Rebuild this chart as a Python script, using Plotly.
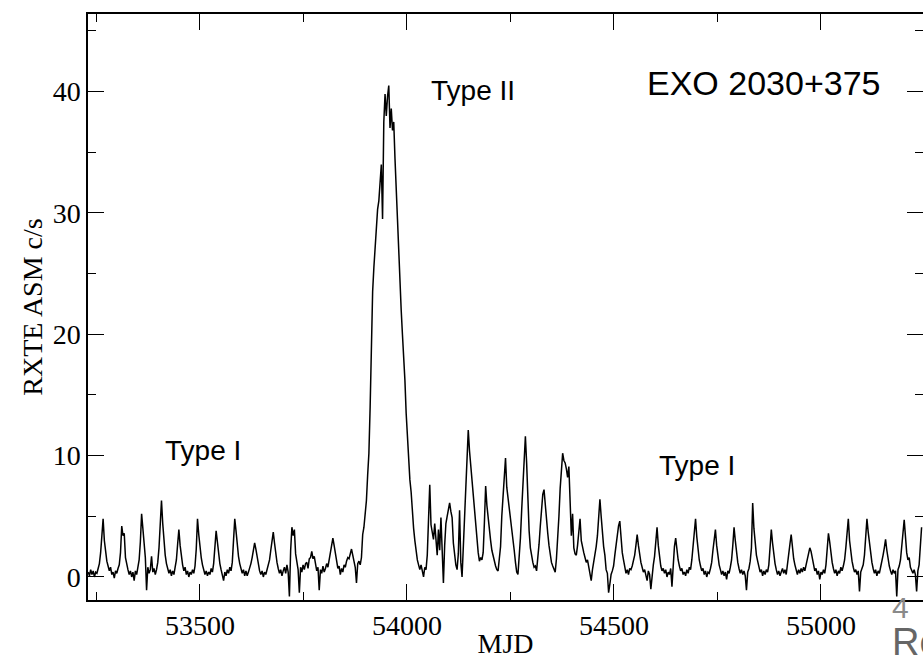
import plotly.graph_objects as go

# RXTE ASM light curve of EXO 2030+375, sampled every 3 days starting at MJD 53230
mjd_start = 53230
mjd_step = 3
rate = [
    # 53230
    0.4, 0.1, 0.6, 0.2, 0.5, 0.0, 0.4, 0.3, 0.7, 1.1, 2.0, 3.6, 4.8, 3.0, 1.9, 1.3,
    # 53278
    0.9, 0.5, 0.8, 0.2, 0.4, -0.1, 0.5, 0.3, 0.7, 1.0, 2.0, 4.2, 3.4, 3.6, 1.6, 1.0,
    # 53326
    0.6, 0.2, 0.5, 0.0, 0.4, -0.3, 0.5, 0.2, 0.8, 1.4, 2.9, 5.2, 4.0, 2.6, 1.6, -1.1,
    # 53374
    0.8, 0.3, 0.6, 1.7, 0.4, 0.7, 0.2, 0.6, 1.2, 2.4, 4.6, 6.3, 4.4, 2.8, 1.8, 1.1,
    # 53422
    0.7, 0.3, 0.6, 0.1, 0.5, 0.2, 0.8, 1.4, 2.7, 3.9, 2.6, 1.7, 1.0, 0.5, 0.8, 0.2,
    # 53470
    0.5, 0.0, 0.4, 0.2, 0.6, 0.3, 0.9, 2.3, 4.8, 3.5, 2.4, 1.6, 1.0, 0.6, 0.2, 0.5,
    # 53518
    0.1, 0.4, 0.2, 0.7, 0.4, 1.1, 2.3, 3.8, 2.9, 1.8, 1.1, 0.6, 0.2, -0.3, 0.4, 0.1,
    # 53566
    0.6, 0.3, 0.8, 0.5, 1.2, 2.6, 4.8, 3.8, 2.5, 1.7, 1.1, 0.6, 0.3, 0.6, 0.1, 0.5,
    # 53614
    0.1, 0.4, 0.7, 1.1, 1.6, 2.3, 2.8, 2.3, 1.6, 1.0, 0.5, 0.2, 0.5, 0.0, 0.4, 0.2,
    # 53662
    0.6, 0.9, 1.4, 2.2, 3.0, 3.7, 2.8, 1.9, 1.2, 0.7, 0.3, 0.6, 0.1, 0.5, 0.8, 0.3,
    # 53710
    1.0, 0.4, -1.6, 2.2, 4.1, 3.4, 3.9, 1.9, 1.2, 0.6, -1.3, 0.8, 0.4, 1.0, 0.6, 1.1,
    # 53758
    1.2, 0.7, 1.5, 1.6, 2.1, 1.5, 1.7, 1.0, 0.5, 0.8, -1.1, 0.6, 0.3, 0.9, 0.4, 0.7,
    # 53806
    1.1, 0.8, 1.4, 2.0, 2.6, 3.2, 2.6, 1.9, 1.2, 0.7, 0.9, 0.2, 0.7, 0.4, 1.0, 0.8,
    # 53854
    1.3, 1.6, 1.5, 2.0, 2.3, 1.8, 1.3, 0.8, -0.5, 1.1, 1.3, 1.0, 1.6, 3.5, 4.1, 5.2,
    # 53902  (type II outburst)
    6.3, 8.4, 10.2, 14.0, 19.0, 23.5, 25.5, 27.5, 29.0, 30.3, 31.0, 32.5, 34.0, 29.5, 37.5, 39.8,
    # 53950
    38.0, 39.6, 40.5, 37.0, 38.6, 36.8, 37.5, 34.5, 32.5, 29.5, 27.0, 24.0, 22.0, 20.0, 18.5, 16.2,
    # 53998
    13.5, 11.5, 9.5, 8.0, 7.0, 5.2, 4.0, 3.0, 2.0, 1.4, 1.0, 0.6, 1.0, 0.3, 0.0, 0.8,
    # 54046
    0.6, 1.8, 5.5, 7.6, 4.3, 3.5, 3.1, 4.4, 2.8, 1.8, 3.9, 2.2, 4.9, 2.0, -0.5, 2.6,
    # 54094
    4.4, 5.0, 5.7, 6.1, 5.4, 4.9, 2.8, 1.8, 1.0, 0.6, 1.9, 5.5, 1.2, 0.0, 2.6, 4.6,
    # 54142
    7.8, 10.3, 12.1, 10.4, 9.2, 7.6, 6.5, 5.0, 3.8, 2.6, 2.0, 1.3, 1.6, 1.4, 2.0, 4.5,
    # 54190
    7.5, 5.9, 4.7, 3.8, 3.0, 2.2, 1.7, 1.3, 0.9, 0.6, 0.5, 1.5, 2.5, 5.0, 7.0, 8.8,
    # 54238
    9.8, 7.4, 6.6, 5.6, 5.0, 4.0, 3.1, 2.2, 1.2, 0.4, 0.2, 1.5, 3.2, 5.5, 7.4, 9.0,
    # 54286
    11.6, 9.4, 6.0, 3.8, 2.4, 1.7, 1.2, 0.8, 0.9, 0.5, 1.4, 2.7, 4.2, 5.6, 6.8, 7.2,
    # 54334
    5.8, 4.7, 3.6, 2.6, 1.6, 1.2, 0.9, 0.6, 0.4, 1.5, 3.0, 5.0, 7.3, 9.0, 10.2, 9.6,
    # 54382
    9.4, 8.9, 8.2, 9.1, 5.6, 3.4, 5.2, 2.4, 1.9, 1.8, 2.6, 3.6, 4.8, 3.0, 2.4, 2.0,
    # 54430
    1.6, 1.2, 1.4, 0.8, 0.4, -0.3, 0.6, 1.2, 1.8, 2.5, 3.4, 4.6, 6.4, 5.0, 3.4, 2.5,
    # 54478
    1.8, 0.6, 0.3, -1.3, -0.6, 0.2, 0.5, 0.9, 1.8, 2.7, 3.4, 4.2, 4.6, 2.8, 2.0, 1.4,
    # 54526
    0.8, 0.3, 0.6, 0.2, 0.7, 0.6, 0.9, 1.3, 1.8, 2.6, 3.5, 2.6, 1.8, 1.2, 0.8, 0.4,
    # 54574
    0.6, 0.1, -0.3, 0.5, 0.2, -1.0, 0.3, 1.0, 1.7, 3.0, 4.1, 2.6, 1.6, 0.9, 0.5, 0.7,
    # 54622
    0.3, 0.6, 0.0, 0.4, 0.2, 0.7, -0.8, 1.3, 2.5, 3.2, 2.1, 1.4, 0.9, 0.5, 0.7, 0.2,
    # 54670
    0.4, 0.1, 0.6, 0.3, 0.8, 0.6, 1.4, 2.4, 3.8, 4.8, 3.3, 2.2, 1.4, 0.9, 0.5, 0.7,
    # 54718
    0.2, 0.5, 0.0, 0.4, 0.3, 0.7, 1.2, 2.2, 3.3, 3.9, 2.6, 1.6, 1.0, 0.6, 0.2, 0.5,
    # 54766
    0.1, 0.4, -0.2, 0.5, 0.3, 0.8, 1.4, 2.6, 4.1, 3.0, 1.9, 1.2, 0.7, 0.3, 0.6, 0.2,
    # 54814
    0.5, 0.1, -1.1, 0.4, 0.7, 1.3, 2.4, 6.1, 4.0, 2.6, 1.8, 1.3, 0.8, 0.4, 0.6, 0.1,
    # 54862
    0.5, 0.2, 0.6, 0.4, 1.0, 2.2, 3.9, 2.8, 1.8, 1.1, 0.6, 0.2, 0.5, 0.1, 0.4, 0.7,
    # 54910
    0.3, 0.6, 0.2, 0.9, 1.6, 2.7, 3.5, 2.4, 1.5, 1.0, 0.5, 0.2, 0.6, 0.3, 0.7, 0.4,
    # 54958
    0.8, 0.5, 1.0, 1.4, 2.0, 2.4, 2.1, 1.5, 1.0, 0.5, 0.7, 0.2, 0.5, -0.2, 0.4, 0.2,
    # 55006
    0.6, 0.3, 1.0, 2.0, 3.6, 2.9, 1.9, 1.2, 0.7, 0.3, 0.6, 0.1, 0.5, 0.3, 0.8, 0.5,
    # 55054
    0.9, 1.4, 2.4, 3.8, 4.8, 3.0, 1.9, 1.3, 0.8, 0.4, 0.6, 0.2, 0.5, -1.2, 0.4, 0.7,
    # 55102
    1.0, 1.8, 3.3, 4.8, 3.7, 2.8, 1.9, 1.2, 0.7, 0.3, 0.6, 0.1, 0.5, 0.3, 0.8, 1.2,
    # 55150
    1.8, 2.4, 3.1, 2.2, 1.4, 0.9, 0.5, 0.2, 0.6, 0.3, 0.5, -1.6, 0.6, 0.9, 1.4, 2.3,
    # 55198
    3.6, 4.7, 3.0, 2.0, 1.4, 1.6, 0.8, 0.5, 0.3, 0.6, 0.2, -1.2, 0.5, 1.0, 2.2, 4.1,
]
mjd = [mjd_start + mjd_step * i for i in range(len(rate))]

x_range = [53229.5, 55246.4]
y_range = [-1.9, 46.4]
x_ticks = [53500, 54000, 54500, 55000]
y_ticks = [0, 10, 20, 30, 40]

labels = [
    ("Type II", 54159, 40.1, 28),
    ("EXO 2030+375", 54862, 40.7, 34),
    ("Type I", 53508, 10.4, 28),
    ("Type I", 54700, 9.2, 28),
]

serif = "Liberation Serif"
sans = "Liberation Sans"
narrow = "Liberation Sans Narrow, Liberation Sans"

fig = go.Figure()
fig.add_trace(go.Scatter(x=mjd, y=rate, mode="lines",
                         line=dict(color="black", width=1.5),
                         showlegend=False, hoverinfo="skip"))
fig.add_trace(go.Scatter(x=[], y=[], yaxis="y2", showlegend=False))

fig.update_layout(
    width=923, height=659,
    margin=dict(l=88, r=0, t=14, b=59, autoexpand=False),
    paper_bgcolor="white", plot_bgcolor="white",
    xaxis=dict(
        range=x_range, tickvals=x_ticks, tickformat="d", automargin=False,
        ticks="inside", ticklen=16, tickwidth=1.3,
        tickcolor="black", showline=True, linecolor="black", linewidth=1.5,
        mirror="ticks", showgrid=False, zeroline=False,
        tickfont=dict(family=serif, size=28, color="black"),
        minor=dict(dtick=250, tick0=53250, ticks="inside", ticklen=8,
                   tickcolor="black", tickwidth=1.3),
        title=dict(text="MJD", font=dict(family=serif, size=28, color="black"),
                   standoff=10),
    ),
    yaxis=dict(
        range=y_range, tickvals=y_ticks, tickformat="d", automargin=False,
        ticks="inside", ticklen=16, tickwidth=1.3,
        tickcolor="black", showline=True, linecolor="black", linewidth=1.5,
        mirror=False, showgrid=False, zeroline=False,
        tickfont=dict(family=serif, size=28, color="black"),
        ticklabelstandoff=0,
        minor=dict(dtick=5, tick0=0, ticks="inside", ticklen=8,
                   tickcolor="black", tickwidth=1.3),
        title=dict(text="RXTE ASM c/s", font=dict(family=serif, size=28, color="black"),
                   standoff=2),
    ),
    yaxis2=dict(
        range=y_range, overlaying="y", side="right", anchor="x", automargin=False,
        tickvals=y_ticks, ticks="inside", ticklen=16, tickwidth=1.3, tickcolor="black",
        showline=False, showgrid=False, zeroline=False, showticklabels=False,
        minor=dict(dtick=5, tick0=0, ticks="inside", ticklen=8,
                   tickcolor="black", tickwidth=1.3),
    ),
)

for text, xv, yv, size in labels:
    fig.add_annotation(text=text, x=xv, y=yv, xref="x", yref="y",
                       showarrow=False, xanchor="center", yanchor="middle",
                       font=dict(family=sans, size=size, color="black"))

# slide overlay remnants at the bottom-right corner
fig.add_annotation(text="4", x=0.9605, y=0.018, xref="paper", yref="paper",
                   showarrow=False, xanchor="left", yanchor="top",
                   font=dict(family=narrow, size=30, color="#8a8a8a"))
fig.add_annotation(text="Re", x=0.9605, y=-0.033, xref="paper", yref="paper",
                   showarrow=False, xanchor="left", yanchor="top",
                   font=dict(family=narrow, size=38, color="#666666"))

fig.write_html("out.html")
